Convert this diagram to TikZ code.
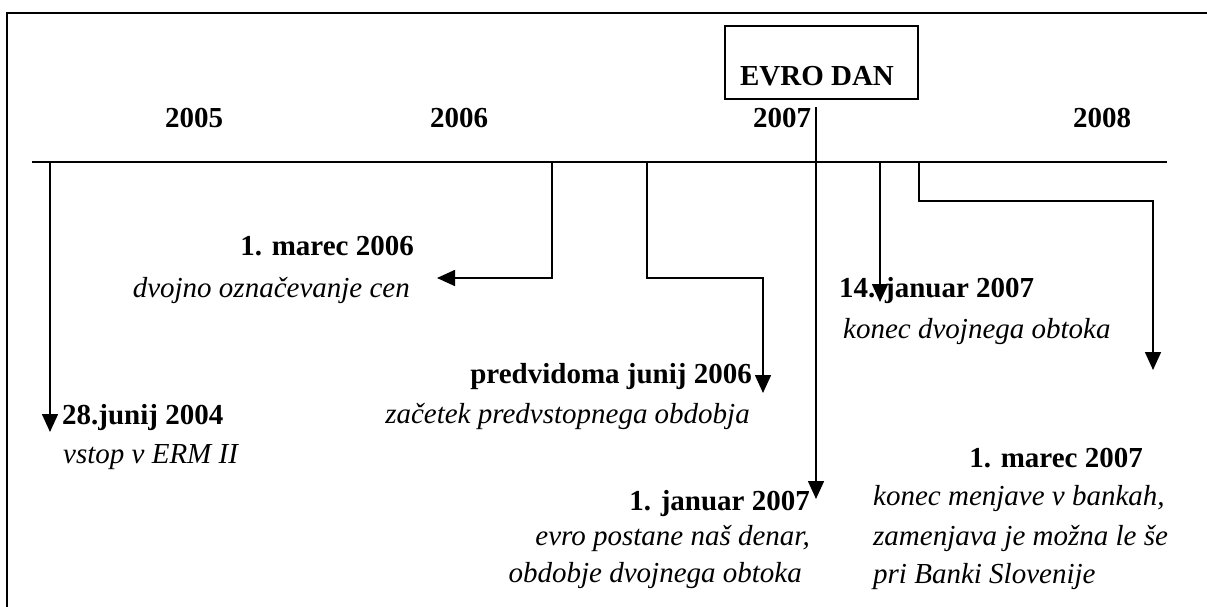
\documentclass[tikz,border=0pt]{standalone}
\usepackage{fontspec}
\setmainfont{Liberation Serif}
\usetikzlibrary{arrows.meta}
\begin{document}
\begin{tikzpicture}[x=1pt,y=-1pt,
  line/.style={line width=1.6pt},
  arr/.style={line width=1.6pt,-{Triangle[length=18pt,width=16pt]}},
  bl/.style={inner sep=0pt,font=\fontsize{29}{35}\selectfont\bfseries},
  it/.style={inner sep=0pt,font=\fontsize{29}{35}\selectfont\itshape}]
\useasboundingbox (0,0) rectangle (1207,607);
% frame
\coordinate (fb) at (7,607);
\coordinate (ftl) at (7,13);
\coordinate (fr) at (1207,13);
\draw[line width=1.4pt] (fb) -- (ftl) -- (fr);
% timeline
\coordinate (ts) at (32,162);
\coordinate (te) at (1167,162);
\draw[line] (ts) -- (te);
% years
\node[bl,anchor=base] (y2005) at (194,128) {2005};
\node[bl,anchor=base] (y2006) at (459,128) {2006};
\node[bl,anchor=base] (y2007) at (782,128) {2007};
\node[bl,anchor=base] (y2008) at (1102,128) {2008};
% EVRO DAN box
\node[draw,line width=1.4pt,minimum width=193pt,minimum height=73pt,inner sep=0pt] (evrobox) at (821.5,62.5) {};
\node[bl,anchor=base] (evro) at (817,86) {EVRO DAN};
% labels
\node[bl,anchor=base west] (l1a) at (62,424) {28.junij 2004};
\node[it,anchor=base west] (l1b) at (63,463) {vstop v ERM II};
\node[bl,anchor=base east] (l2a) at (414,255) {1. marec 2006};
\node[it,anchor=base east] (l2b) at (410,297) {dvojno označevanje cen};
\node[bl,anchor=base east] (l3a) at (752,383) {predvidoma junij 2006};
\node[it,anchor=base east] (l3b) at (750,423) {začetek predvstopnega obdobja};
\node[bl,anchor=base east] (l4a) at (810,510) {1. januar 2007};
\node[it,anchor=base east] (l4b) at (810,545) {evro postane naš denar,};
\node[it,anchor=base east] (l4c) at (802,582) {obdobje dvojnega obtoka};
\node[bl,anchor=base west] (l5a) at (839,297) {14. januar 2007};
\node[it,anchor=base west] (l5b) at (843,338) {konec dvojnega obtoka};
\node[bl,anchor=base east] (l6a) at (1143,467) {1. marec 2007};
\node[it,anchor=base west] (l6b) at (873,505) {konec menjave v bankah,};
\node[it,anchor=base west] (l6c) at (873,545) {zamenjava je možna le še};
\node[it,anchor=base west] (l6d) at (873,583) {pri Banki Slovenije};
% arrow coordinates
\coordinate (s1) at (50,162);   \coordinate (e1) at (50,432);
\coordinate (s2) at (552,162);  \coordinate (e2) at (437,278);
\coordinate (s3) at (647,162);  \coordinate (k3) at (763,278); \coordinate (e3) at (763,393);
\coordinate (s4) at (816,107);  \coordinate (e4) at (816,499);
\coordinate (s5) at (880,162);  \coordinate (e5) at (880,302);
\coordinate (s6) at (919,162);  \coordinate (k6) at (1153,201); \coordinate (e6) at (1153,370);
% arrows
\draw[arr] (s1) -- (e1);
\draw[arr] (s2) |- (e2);
\draw[arr] (s3) |- (k3) -- (e3);
\draw[arr] (s4) -- (e4);
\draw[arr] (s5) -- (e5);
\draw[arr] (s6) |- (k6) -- (e6);
\end{tikzpicture}
\end{document}
